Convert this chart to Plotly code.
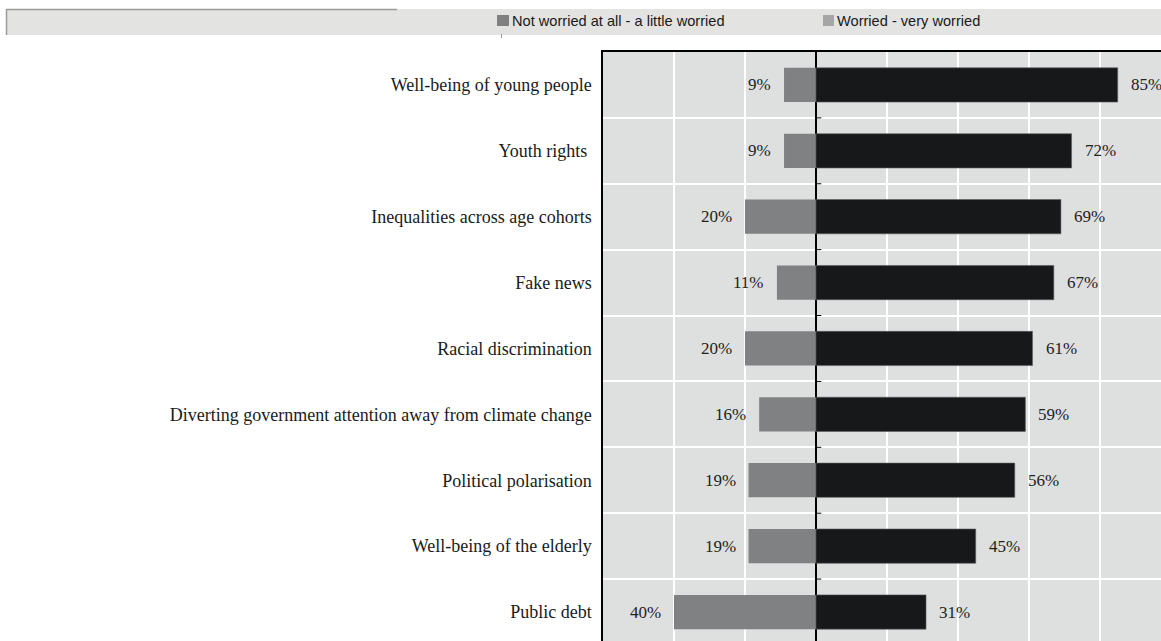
import plotly.graph_objects as go

categories = [
    "Well-being of young people",
    "Youth rights ",
    "Inequalities across age cohorts",
    "Fake news",
    "Racial discrimination",
    "Diverting government attention away from climate change",
    "Political polarisation",
    "Well-being of the elderly",
    "Public debt",
]
not_worried = [9, 9, 20, 11, 20, 16, 19, 19, 40]
worried = [85, 72, 69, 67, 61, 59, 56, 45, 31]
legend_labels = ["Not worried at all - a little worried", "Worried - very worried"]

W, H = 1161, 641
L, T = 603, 52
plot_w = W - L
plot_h = H - T

def px_x(px):
    return (px - L) / plot_w

def px_y(py):
    return 1 - (py - T) / plot_h

ypos = list(range(len(categories)))
neg_vals = [-v for v in not_worried]

fig = go.Figure()
fig.add_trace(go.Bar(
    y=ypos, x=neg_vals, orientation="h", name=legend_labels[0],
    marker=dict(color="#7f8182", line=dict(width=0)), width=0.52,
    showlegend=False, hoverinfo="skip",
))
fig.add_trace(go.Bar(
    y=ypos, x=worried, orientation="h", name=legend_labels[1],
    marker=dict(color="#16181a", line=dict(color="#5c5e60", width=0.6)), width=0.52,
    showlegend=False, hoverinfo="skip",
))

label_font = dict(family="Liberation Serif, DejaVu Serif, serif", size=17, color="#222222")
ann = []
for i in ypos:
    ann.append(dict(x=neg_vals[i], y=i, xref="x", yref="y", text=f"{not_worried[i]}%",
                    showarrow=False, xanchor="right", xshift=-11, font=label_font))
    ann.append(dict(x=worried[i], y=i, xref="x", yref="y", text=f"{worried[i]}%",
                    showarrow=False, xanchor="left", xshift=11, font=label_font))

# legend
leg_font = dict(family="Liberation Sans, Arial, sans-serif", size=14.6, color="#1a1a1a")
ann.append(dict(x=px_x(510), y=px_y(21), xref="paper", yref="paper", text=legend_labels[0],
                showarrow=False, xanchor="left", yanchor="middle", font=leg_font))
ann.append(dict(x=px_x(835), y=px_y(21), xref="paper", yref="paper", text=legend_labels[1],
                showarrow=False, xanchor="left", yanchor="middle", font=leg_font))

shapes = []
# legend band
shapes.append(dict(type="rect", xref="paper", yref="paper", x0=px_x(6), x1=px_x(1161),
                   y0=px_y(35), y1=px_y(9), fillcolor="#e3e3e2", line=dict(width=0), layer="below"))
shapes.append(dict(type="line", xref="paper", yref="paper", x0=px_x(6), x1=px_x(397),
                   y0=px_y(9.5), y1=px_y(9.5), line=dict(color="#9a9a9a", width=1.5)))
shapes.append(dict(type="line", xref="paper", yref="paper", x0=px_x(6.5), x1=px_x(6.5),
                   y0=px_y(9), y1=px_y(35), line=dict(color="#9a9a9a", width=1.5)))
shapes.append(dict(type="line", xref="paper", yref="paper", x0=px_x(501.5), x1=px_x(501.5),
                   y0=px_y(34), y1=px_y(38), line=dict(color="#9a9a9a", width=1)))
shapes.append(dict(type="rect", xref="paper", yref="paper", x0=px_x(497), x1=px_x(509),
                   y0=px_y(26), y1=px_y(15), fillcolor="#808080", line=dict(width=0)))
shapes.append(dict(type="rect", xref="paper", yref="paper", x0=px_x(823), x1=px_x(834),
                   y0=px_y(26), y1=px_y(15), fillcolor="#a6a6a6", line=dict(width=0)))
# small ticks on zero axis at category boundaries
for i in range(len(categories) - 1):
    shapes.append(dict(type="line", xref="x", yref="y", x0=0, x1=1.5, y0=i + 0.5, y1=i + 0.5,
                       line=dict(color="black", width=1)))

fig.update_layout(
    width=W, height=H,
    margin=dict(l=L, r=0, t=T, b=0, pad=0),
    paper_bgcolor="white", plot_bgcolor="#dedfdf",
    barmode="overlay", bargap=0.48,
    annotations=ann, shapes=shapes,
    xaxis=dict(range=[-60, 97.2], tickvals=[-40, -20, 0, 20, 40, 60, 80, 100], showticklabels=False,
               showgrid=True, gridcolor="white", gridwidth=1.5,
               zeroline=True, zerolinecolor="black", zerolinewidth=1.5,
               side="top", showline=True, linecolor="black", linewidth=1.5, ticks=""),
    yaxis=dict(range=[8.44, -0.5], tickvals=ypos, ticktext=categories,
               tickfont=dict(family="Liberation Serif, DejaVu Serif, serif", size=18, color="#1a1a1a"),
               showgrid=False, zeroline=False, showline=True, linecolor="black", linewidth=1.5,
               ticks="", ticklabelstandoff=6,
               minor=dict(tickvals=[i + 0.5 for i in ypos[:-1]], showgrid=True, gridcolor="white", gridwidth=1.5, ticks="")),
)

fig.write_html("out.html", config={"displayModeBar": False},
               post_script="document.body.style.margin='0';document.body.style.overflow='hidden';")
